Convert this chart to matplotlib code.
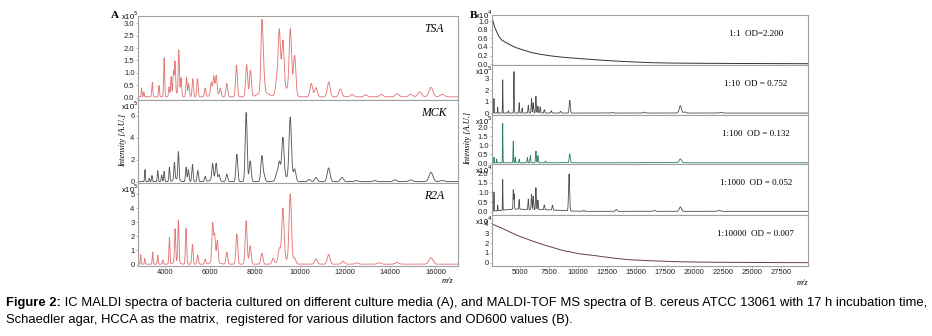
import numpy as np
import matplotlib
matplotlib.use('Agg')
import matplotlib.pyplot as plt

W, H = 932, 336

# ---- panel A : IC MALDI spectra, peak lists (m/z, intensity x10^5) ----
tsa_peaks = [(2960, 0.36), (3060, 0.2), (3410, 0.16), (3440, 0.54), (3730, 0.46),
             (3960, 1.58), (4180, 0.4), (4270, 0.8), (4370, 0.97), (4440, 1.31),
             (4610, 1.81), (4710, 0.74), (4950, 0.8), (5050, 0.54), (5230, 0.73),
             (5440, 0.73), (5780, 0.35), (6050, 0.5), (6160, 0.7), (6270, 0.73),
             (6450, 0.3), (6740, 0.54), (7170, 1.28), (7620, 1.31), (7790, 1.07),
             (8300, 2.8), (8380, 0.6), (8950, 0.57), (9070, 2.5), (9230, 1.95),
             (9560, 2.57), (9750, 1.62), (10490, 0.54), (10700, 0.37), (11260, 0.6),
             (11780, 0.32), (12300, 0.1), (12900, 0.08), (13600, 0.1), (14300, 0.12),
             (14900, 0.1), (15300, 0.2), (15800, 0.38), (16300, 0.1)]
tsa_humps = [(4500, 0.15), (6200, 0.15), (9300, 0.35), (8350, 0.2)]

mck_peaks = [(3111, 1.09), (3300, 0.3), (3420, 0.56), (3676, 1.0), (3850, 0.6),
             (3960, 0.93), (4193, 1.3), (4415, 1.56), (4593, 2.55), (4933, 1.3),
             (5036, 1.09), (5215, 1.56), (5452, 1.0), (5780, 0.47), (6111, 1.4),
             (6267, 1.4), (6400, 0.5), (6741, 0.68), (7185, 2.49), (7600, 6.28),
             (7778, 1.87), (8296, 2.33), (8400, 0.5), (8950, 0.6), (9070, 1.56),
             (9230, 3.64), (9556, 5.66), (9750, 1.09), (10400, 0.2), (10700, 0.37),
             (11259, 1.24), (11850, 0.37), (12500, 0.1), (13300, 0.1), (14200, 0.15),
             (14900, 0.15), (15800, 0.84), (16300, 0.1)]
mck_humps = [(4500, 0.25), (6200, 0.3), (9300, 0.4)]

r2a_peaks = [(2920, 0.67), (3100, 0.4), (3452, 0.86), (3676, 0.64), (3900, 0.3),
             (4193, 1.9), (4444, 2.33), (4593, 3.0), (4933, 2.53), (5215, 1.4),
             (5452, 0.64), (5780, 0.35), (6111, 2.67), (6200, 1.84), (6320, 1.5),
             (6741, 0.85), (7185, 2.14), (7600, 3.07), (7778, 1.3), (8296, 0.77),
             (8800, 0.4), (9070, 0.95), (9230, 3.7), (9556, 4.81), (9750, 0.38),
             (10700, 0.38), (11259, 0.69), (11900, 0.2), (12500, 0.1), (13500, 0.1),
             (14300, 0.12), (15800, 0.46)]
r2a_humps = [(4500, 0.2), (6200, 0.25), (9300, 0.3)]

# ---- panel B : B. cereus dilution series ----
d1_mz = [2600, 2800, 3000, 3200, 3430, 3800, 4140, 4700, 5260, 6000, 6720, 7700,
         8690, 10100, 11600, 13000, 14440, 16160, 18000, 20450, 24000, 29800]
d1_int = [1.08, 0.88, 0.75, 0.64, 0.56, 0.5, 0.45, 0.38, 0.33, 0.27, 0.23, 0.19,
          0.16, 0.13, 0.10, 0.075, 0.055, 0.035, 0.025, 0.02, 0.015, 0.01]

d10_peaks = [(2770, 1.26), (3090, 0.5), (3520, 2.9), (4000, 0.2), (4490, 3.6),
             (4940, 0.9), (5200, 0.45), (5720, 0.68), (6000, 1.26), (6150, 0.9),
             (6380, 1.47), (6550, 0.6), (6750, 0.54), (7100, 0.3), (7700, 0.2),
             (8500, 0.15), (9290, 1.11), (13000, 0.05), (15730, 0.08), (18810, 0.64),
             (19200, 0.1), (22300, 0.05)]

d100_peaks = [(2770, 0.3), (3000, 0.2), (3520, 2.2), (4430, 1.2), (4600, 0.3),
              (4940, 0.2), (5650, 0.3), (5900, 0.4), (6380, 0.65), (6550, 0.4),
              (7200, 0.1), (9290, 0.5), (18810, 0.22)]

d1000_peaks = [(2770, 0.99), (3090, 0.3), (3520, 1.6), (4430, 1.0), (4500, 0.8),
               (4940, 0.5), (5720, 0.55), (6000, 0.8), (6150, 0.7), (6380, 1.15),
               (6550, 0.5), (7100, 0.25), (7800, 0.25), (9235, 1.92), (10500, 0.05),
               (13300, 0.1), (16580, 0.05), (18810, 0.23), (22160, 0.05)]
d1000_humps = [(4500, 0.1), (7000, 0.08)]

d10000_mz = [2600, 2700, 3570, 4720, 5860, 7290, 8720, 10150, 11580, 13010, 14440,
             16160, 18500, 21000, 25000, 29800]
d10000_int = [4.0, 3.9, 3.45, 2.8, 2.3, 1.73, 1.24, 0.9, 0.7, 0.47, 0.3, 0.2, 0.1,
              0.05, 0.02, 0.0]

labels_a = ['TSA', 'MCK', 'R2A']
labels_b = ['1:1  OD=2.200', '1:10  OD = 0.752', '1:100  OD = 0.132',
            '1:1000  OD = 0.052', '1:10000  OD = 0.007']


def spectrum(grid, peaks, rel_width):
    y = np.zeros_like(grid)
    for mz, h in peaks:
        s = mz * rel_width
        y += h * np.exp(-0.5 * ((grid - mz) / s) ** 2)
    return y


def px_axes(fig, left, top, right, bottom):
    return fig.add_axes([left / W, 1 - bottom / H, (right - left) / W, (bottom - top) / H])


def style(ax, yticks, fmt, exp, first):
    for s in ax.spines.values():
        s.set_color('#a0a0a0')
        s.set_linewidth(0.8)
    ax.set_yticks(yticks)
    ax.set_yticklabels([fmt.format(t) for t in yticks])
    ax.tick_params(axis='both', length=1.5, width=0.5, pad=1, labelsize=5.5,
                   colors='#a0a0a0', labelcolor='#222222')
    # exponent label sits a little lower on the stacked panels
    off = 0 if first else 6
    ax.annotate('x10$^{%d}$' % exp, xy=(0, 1), xycoords='axes fraction',
                xytext=(0, -off * 0.72), textcoords='offset points',
                ha='right', va='center', fontsize=5.5, family='Liberation Sans')


plt.rcParams['font.family'] = 'Liberation Sans'
fig = plt.figure(figsize=(W / 100, H / 100), dpi=100)

# ---------------- panel A ----------------
grid_a = np.linspace(2800, 17000, 6000)
a_rows = [(16, 100), (100, 183), (183, 266)]
a_data = [(tsa_peaks, tsa_humps, '#e47878', (-0.1, 3.3), [0, 0.5, 1, 1.5, 2, 2.5, 3], '{:.1f}'),
          (mck_peaks, mck_humps, '#5a5a5a', (-0.1, 7.45), [0, 2, 4, 6], '{:.0f}'),
          (r2a_peaks, r2a_humps, '#e47878', (-0.1, 5.78), [0, 1, 2, 3, 4, 5], '{:.0f}')]
for i, ((top, bot), (pk, hm, col, ylim, yt, fmt)) in enumerate(zip(a_rows, a_data)):
    ax = px_axes(fig, 138, top, 458, bot)
    y = spectrum(grid_a, pk, 0.0055) + spectrum(grid_a, hm, 0.025) + 0.03
    ax.plot(grid_a, y, color=col, lw=0.65)
    ax.set_xlim(2800, 17000)
    ax.set_ylim(*ylim)
    style(ax, yt, fmt, 5, i == 0)
    ax.text(0.925, 0.84, labels_a[i], transform=ax.transAxes, ha='center', va='center',
            fontsize=8.5, style='italic', family='Liberation Serif')
    if i < 2:
        ax.set_xticks([])
    else:
        ax.set_xticks([4000, 6000, 8000, 10000, 12000, 14000, 16000])

fig.text(115 / W, 1 - 15 / H, 'A', fontsize=8, fontweight='bold', family='Liberation Serif',
         ha='center', va='center')
fig.text(123 / W, 1 - 140 / H, 'Intensity [A.U.]', rotation=90, fontsize=6,
         style='italic', family='Liberation Serif', ha='center', va='center')
fig.text(448 / W, 1 - 281 / H, 'm/z', fontsize=6, style='italic', family='Liberation Serif',
         ha='center', va='center')

# ---------------- panel B ----------------
grid_b = np.linspace(2600, 29800, 8000)
b_rows = [(15, 65), (65, 115), (115, 164), (164, 215), (215, 266)]
b_cols = ['#333333', '#4a4a4a', '#2b7a66', '#4a4a4a', '#6b3f3f']
b_ylims = [(-0.02, 1.14), (-0.15, 4.2), (-0.05, 2.68), (-0.17, 2.48), (-0.34, 4.86)]
b_ticks = [[0, 0.2, 0.4, 0.6, 0.8, 1.0], [0, 1, 2, 3], [0, 0.5, 1, 1.5, 2],
           [0, 0.5, 1, 1.5, 2], [0, 1, 2, 3, 4]]
b_fmts = ['{:.1f}', '{:.0f}', '{:.1f}', '{:.1f}', '{:.0f}']
b_exps = [4, 5, 5, 4, 4]
for i, (top, bot) in enumerate(b_rows):
    ax = px_axes(fig, 492, top, 808, bot)
    if i == 0:
        ax.plot(d1_mz, d1_int, color=b_cols[i], lw=0.7)
    elif i == 4:
        ax.plot(d10000_mz, d10000_int, color=b_cols[i], lw=0.7)
    else:
        pk = [d10_peaks, d100_peaks, d1000_peaks][i - 1]
        y = spectrum(grid_b, pk, 0.005) + 0.02
        if i == 3:
            y += spectrum(grid_b, d1000_humps, 0.2)
        ax.plot(grid_b, y, color=b_cols[i], lw=0.6)
    ax.set_xlim(2600, 29800)
    ax.set_ylim(*b_ylims[i])
    style(ax, b_ticks[i], b_fmts[i], b_exps[i], i == 0)
    ax.text(0.835, 0.62, labels_b[i], transform=ax.transAxes, ha='center', va='center',
            fontsize=6.5, family='Liberation Serif')
    if i < 4:
        ax.set_xticks([])
    else:
        ax.set_xticks([5000, 7500, 10000, 12500, 15000, 17500, 20000, 22500, 25000, 27500])

fig.text(474 / W, 1 - 15 / H, 'B', fontsize=8, fontweight='bold', family='Liberation Serif',
         ha='center', va='center')
fig.text(468 / W, 1 - 138 / H, 'Intensity [A.U.]', rotation=90, fontsize=6,
         style='italic', family='Liberation Serif', ha='center', va='center')
fig.text(803 / W, 1 - 283 / H, 'm/z', fontsize=6, style='italic', family='Liberation Serif',
         ha='center', va='center')

# ---------------- caption ----------------
cap_size = 9.4
renderer = fig.canvas.get_renderer()
t1 = fig.text(6 / W, 1 - 303 / H, 'Figure 2:', fontsize=cap_size, fontweight='bold', va='center')
bb = t1.get_window_extent(renderer)
fig.text(bb.x1 / W, 1 - 303 / H,
         ' IC MALDI spectra of bacteria cultured on different culture media (A), and MALDI-TOF MS '
         'spectra of B. cereus ATCC 13061 with 17 h incubation time,',
         fontsize=cap_size, va='center')
fig.text(6 / W, 1 - 320 / H,
         'Schaedler agar, HCCA as the matrix,  registered for various dilution factors and OD600 values (B).',
         fontsize=cap_size, va='center')

fig.savefig('out.png', dpi=100)
